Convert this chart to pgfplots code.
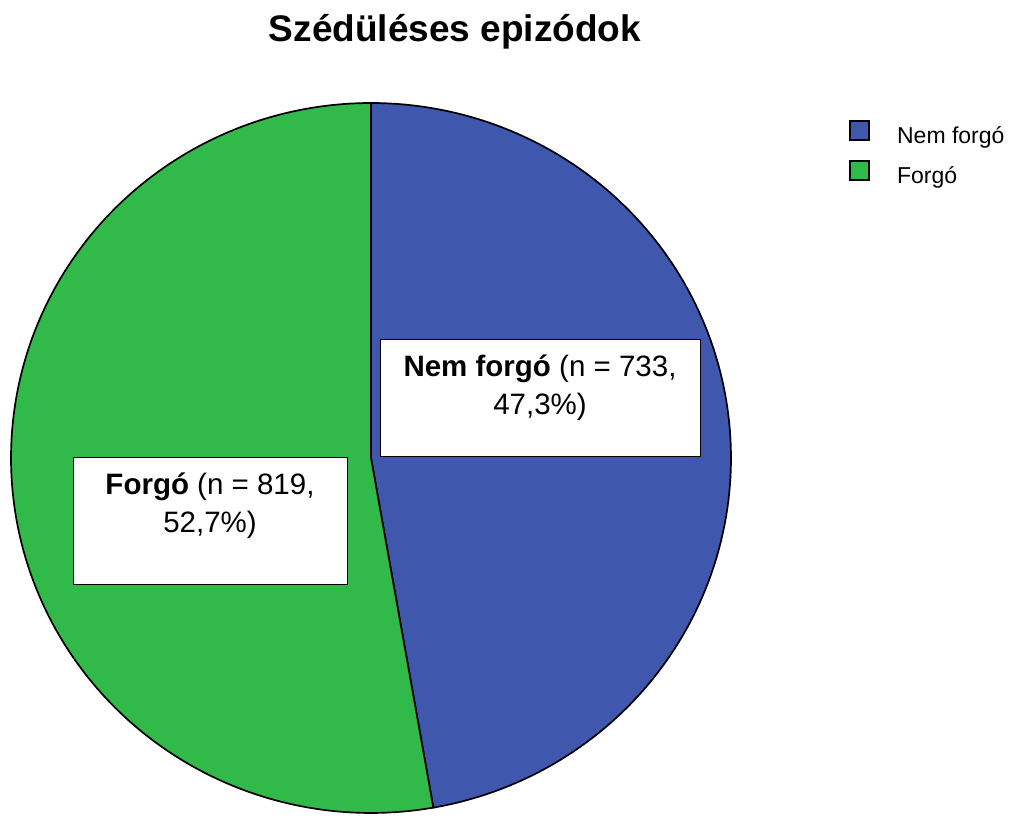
\documentclass[border=0pt]{standalone}
\usepackage{fontspec}
\setmainfont{Liberation Sans}
\usepackage{pgfplots}
\pgfplotsset{compat=1.18}
\definecolor{pieblue}{HTML}{3F58AD}
\definecolor{piegreen}{HTML}{31B94A}
% data
\def\valA{733}% Nem forgo
\def\valB{819}% Forgo
\pgfmathsetmacro\total{\valA+\valB}
\pgfmathsetmacro\fracA{\valA/\total}
\pgfmathsetmacro\angA{90-360*\fracA}
\pgfmathsetmacro\angB{\angA+360}
\begin{document}
\begin{tikzpicture}
\begin{axis}[
  hide axis, scale only axis, width=1012pt, height=818pt,
  xmin=0, xmax=1012, ymin=0, ymax=818, clip=false,
  legend style={at={(axis cs:849,698)}, anchor=north west, draw=none, fill=none,
    font=\fontsize{23}{27}\selectfont, row sep=13pt, inner sep=0pt,
    cells={anchor=west}},
  legend image code/.code={%
    \path[draw=none, fill=none] (0pt,0pt) -- (45pt,0pt);
    \draw[#1, draw=black, line width=1.8pt] (0pt,-4pt) rectangle (19pt,15pt);},
]
\path (axis cs:0,0) rectangle (axis cs:1012,818);
\addplot[fill=pieblue, draw=black, line width=1.7pt, domain=\angA:90, samples=180, variable=\t]
  ({371+360*cos(\t)},{360+355*sin(\t)}) -- (axis cs:371,360) -- cycle;
\addlegendentry{Nem forgó}
\addplot[fill=piegreen, draw=black, line width=1.7pt, domain=90:\angB, samples=180, variable=\t]
  ({371+360*cos(\t)},{360+355*sin(\t)}) -- (axis cs:371,360) -- cycle;
\addlegendentry{Forgó}
% title
\node[anchor=base, font=\bfseries\fontsize{37}{44}\selectfont] at (axis cs:455,776) {Szédüléses epizódok};
% label boxes
\draw[fill=white, draw=black, line width=0.9pt] (axis cs:380,479) rectangle (axis cs:700,362);
\node[anchor=base, font=\fontsize{29.5}{38}\selectfont, inner sep=0pt] at (axis cs:540,441) {\textbf{Nem forgó} (n = 733,};
\node[anchor=base, font=\fontsize{29.5}{38}\selectfont, inner sep=0pt] at (axis cs:540,403) {47,3\%)};
\draw[fill=white, draw=black, line width=0.9pt] (axis cs:73,361) rectangle (axis cs:347,234);
\node[anchor=base, font=\fontsize{29.5}{38}\selectfont, inner sep=0pt] at (axis cs:210,323) {\textbf{Forgó} (n = 819,};
\node[anchor=base, font=\fontsize{29.5}{38}\selectfont, inner sep=0pt] at (axis cs:210,285) {52,7\%)};
\end{axis}
\end{tikzpicture}
\end{document}
